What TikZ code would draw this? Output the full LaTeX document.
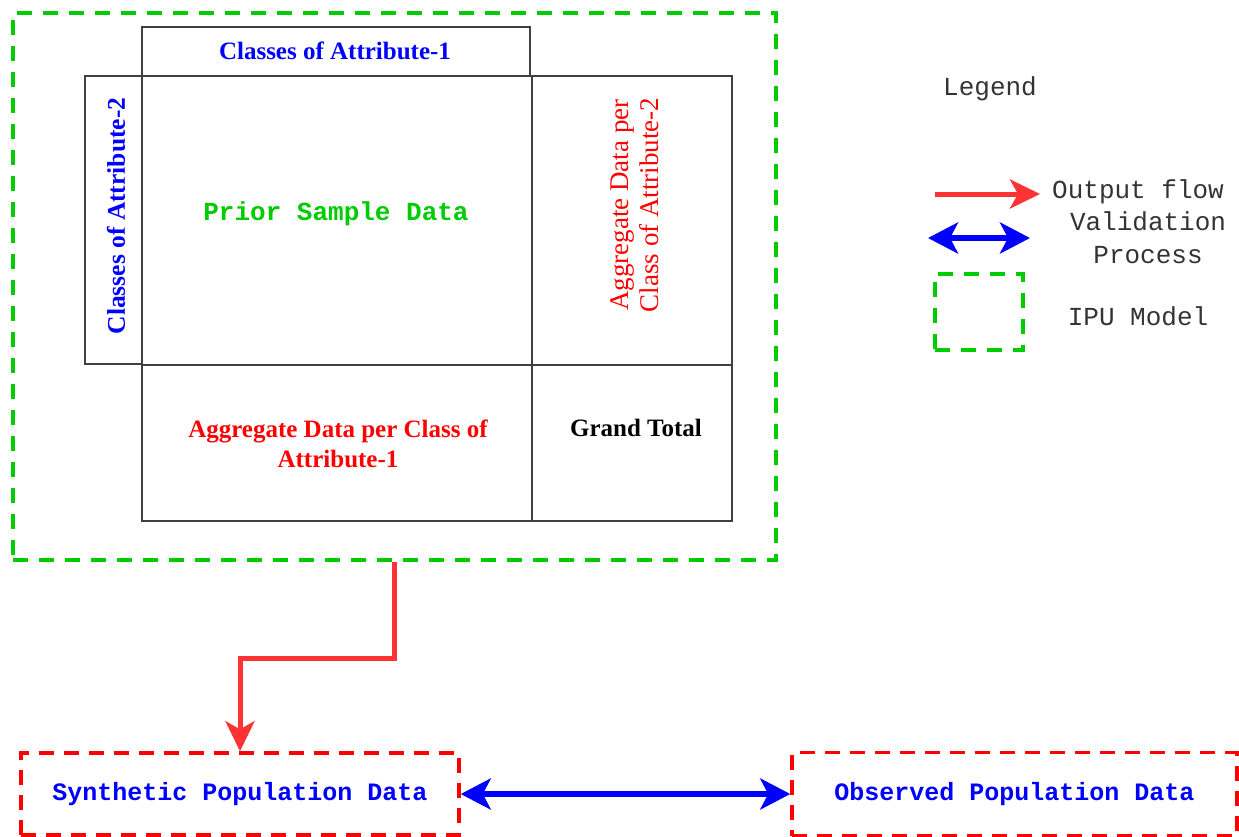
\documentclass[tikz,border=0pt]{standalone}
\usepackage{fontspec}
\setmainfont{Liberation Serif}
\setmonofont{Liberation Mono}
\usetikzlibrary{arrows.meta}
\definecolor{ipugreen}{HTML}{00CC00}
\definecolor{flowred}{HTML}{FF3333}
\definecolor{txtred}{HTML}{FF0000}
\definecolor{txtblue}{HTML}{0000FF}
\definecolor{legtxt}{HTML}{333333}
\tikzset{
  cell/.style={draw=black!75, line width=1.4pt, inner sep=0, rectangle},
  greendash/.style={draw=ipugreen, line width=3.5pt, dash pattern=on 15pt off 11pt, rectangle, inner sep=0},
  reddash/.style={draw=txtred, line width=3.5pt, dash pattern=on 15pt off 10pt, rectangle, inner sep=0},
  sertxt/.style={inner sep=0, font=\fontsize{25}{30}\selectfont\bfseries, align=center},
  montxt/.style={inner sep=0, font=\fontsize{26}{33}\selectfont\ttfamily, align=center},
  flowarrow/.style={draw=flowred, line width=5pt, -{Stealth[length=30pt,width=29pt,inset=8pt]}},
  valarrow/.style={draw=txtblue, line width=6pt, {Stealth[length=30pt,width=31pt,inset=8pt]}-{Stealth[length=30pt,width=31pt,inset=8pt]}}
}
\begin{document}
\begin{tikzpicture}[x=1pt,y=-1pt]
\useasboundingbox (0,0) rectangle (1239,836);
\clip (0,0) rectangle (1239,836);

% IPU model frame
\node[greendash, minimum width=763pt, minimum height=547pt] (ipu) at (394.5,286.5) {};

% table cells
\node[cell, minimum width=388pt, minimum height=49pt] (hdr) at (336,51.5) {};
\node[cell, minimum width=57pt, minimum height=288pt] (lft) at (113.5,220) {};
\node[cell, minimum width=390pt, minimum height=289pt] (prior) at (337,220.5) {};
\node[cell, minimum width=200pt, minimum height=289pt] (rtop) at (632,220.5) {};
\node[cell, minimum width=390pt, minimum height=156pt] (blft) at (337,443) {};
\node[cell, minimum width=200pt, minimum height=156pt] (brgt) at (632,443) {};

% texts of the table
\node[sertxt, text=txtblue] (thdr) at (335,51) {Classes of Attribute-1};
\node[sertxt, font=\fontsize{25.5}{30}\selectfont\bfseries, text=txtblue, rotate=90] (tlft) at (116,216) {Classes of Attribute-2};
\node[montxt, font=\fontsize{26}{33}\selectfont\ttfamily\bfseries, text=ipugreen] (tprior) at (336,214) {Prior Sample Data};
\node[sertxt, font=\fontsize{27}{30}\selectfont, text=txtred, rotate=90] (trtop) at (635,205) {Aggregate Data per\\Class of Attribute-2};
\node[sertxt, text=txtred] (tblft) at (338,444) {Aggregate Data per Class of\\Attribute-1};
\node[sertxt, text=black] (tbrgt) at (636,428) {Grand Total};

% population boxes
\node[reddash, minimum width=438pt, minimum height=82pt, font=\fontsize{25}{30}\selectfont\ttfamily\bfseries, text=txtblue] (syn) at (240,794) {Synthetic Population Data};
\node[reddash, minimum width=445pt, minimum height=83pt, font=\fontsize{25}{30}\selectfont\ttfamily\bfseries, text=txtblue] (obs) at (1014.5,794) {Observed Population Data};

% connectors
\draw[flowarrow] (ipu.south) -- ++(0,97) -| (syn.north);
\draw[valarrow] (syn.east) -- (obs.west);

% legend
\node[montxt, text=legtxt] (leg) at (990,89) {Legend};
\coordinate (la1) at (935,194);
\coordinate (la2) at (1040,194);
\draw[flowarrow] (la1) -- (la2);
\node[montxt, text=legtxt] (lout) at (1138,192) {Output flow};
\coordinate (lb1) at (928,238);
\coordinate (lb2) at (1030,238);
\draw[valarrow] (lb1) -- (lb2);
\node[montxt, text=legtxt] (lval) at (1148,238) {Validation\\Process};
\node[greendash, minimum width=88pt, minimum height=76pt] (lbox) at (979,312) {};
\node[montxt, text=legtxt] (lipu) at (1138,316) {IPU Model};
\end{tikzpicture}
\end{document}
